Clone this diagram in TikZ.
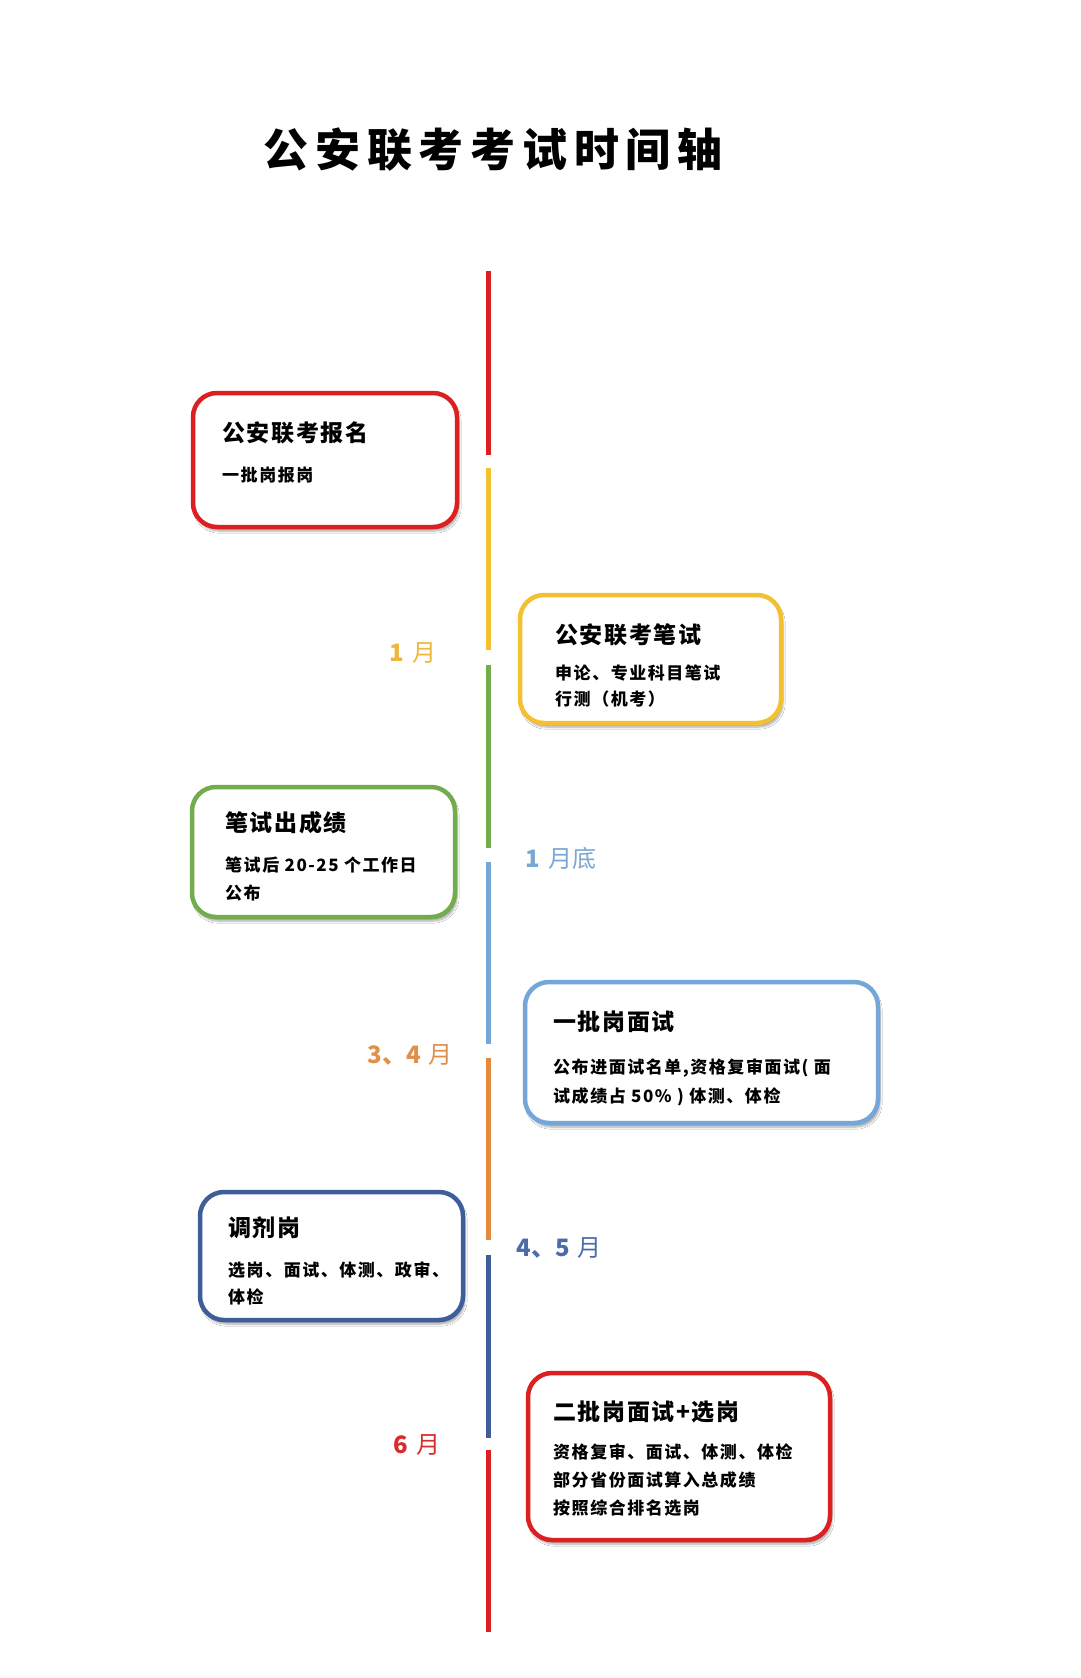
\documentclass[tikz,border=0pt]{standalone}
\usepackage{fontspec}
\setmainfont{Noto Sans CJK SC}
\usetikzlibrary{shadows.blur}
\definecolor{cred}{HTML}{DC1F21}
\definecolor{cyel}{HTML}{F3C030}
\definecolor{cgrn}{HTML}{72AC4D}
\definecolor{clbl}{HTML}{74A6D8}
\definecolor{cora}{HTML}{E38A3D}
\definecolor{cdbl}{HTML}{3F5E99}
\definecolor{tyel}{HTML}{EFB63A}
\definecolor{tlbl}{HTML}{7BA7D3}
\definecolor{tora}{HTML}{E0904A}
\definecolor{tdbl}{HTML}{4A6CA8}
\definecolor{tred}{HTML}{D92B2B}
\begin{document}
\begin{tikzpicture}[x=1pt,y=-1pt,
  seg/.style={line width=5pt},
  card/.style={draw=#1, fill=white, line width=4.5pt, rounded corners=24pt,
    blur shadow={shadow xshift=2pt, shadow yshift=-4pt, shadow blur steps=6, shadow opacity=35}},
  ctitle/.style={anchor=west, inner sep=0pt, text=black, font=\fontsize{23}{27}\selectfont\bfseries\addfontfeature{LetterSpace=7}},
  cbody/.style={anchor=west, inner sep=0pt, text=black, font=\fontsize{17}{22}\selectfont\bfseries\addfontfeature{LetterSpace=9}},
  month/.style={inner sep=0pt, font=\fontsize{24}{28}\selectfont}
]
\useasboundingbox[fill=white] (0,0) rectangle (1080,1678);

% title
\node[inner sep=0pt, font=\fontsize{45}{50}\selectfont\bfseries\addfontfeature{LetterSpace=15}] (title) at (493,150) {公安联考考试时间轴};

% timeline
\coordinate (t0) at (488,271);  \coordinate (t1) at (488,455);
\coordinate (t2) at (488,468);  \coordinate (t3) at (488,650);
\coordinate (t4) at (488,665);  \coordinate (t5) at (488,848);
\coordinate (t6) at (488,862);  \coordinate (t7) at (488,1044);
\coordinate (t8) at (488,1058); \coordinate (t9) at (488,1240);
\coordinate (t10) at (488,1255); \coordinate (t11) at (488,1438);
\coordinate (t12) at (488,1450); \coordinate (t13) at (488,1632);
\draw[seg, cred] (t0) -- (t1);
\draw[seg, cyel] (t2) -- (t3);
\draw[seg, cgrn] (t4) -- (t5);
\draw[seg, clbl] (t6) -- (t7);
\draw[seg, cora] (t8) -- (t9);
\draw[seg, cdbl] (t10) -- (t11);
\draw[seg, cred] (t12) -- (t13);

% month labels
\node[month, text=tyel] (m1) at (413,653) {\textbf{1}\,\,月};
\node[month, text=tlbl] (m2) at (561,858) {\textbf{1}\,\,月底};
\node[month, text=tora] (m3) at (410,1055) {\textbf{3、4}\,\,月};
\node[month, text=tdbl] (m4) at (559,1248) {\textbf{4、5}\,\,月};
\node[month, text=tred] (m5) at (417,1445) {\textbf{6}\,\,月};

% box 1
\path[card=cred] (193,393) rectangle (457,527);
\node[ctitle] (b1t) at (222,433) {公安联考报名};
\node[cbody] (b1a) at (222,475) {一批岗报岗};

% box 2
\path[card=cyel] (520,595) rectangle (781,723);
\node[ctitle] (b2t) at (555,635) {公安联考笔试};
\node[cbody] (b2a) at (555,673) {申论、专业科目笔试};
\node[cbody] (b2b) at (555,699) {行测（机考）};

% box 3
\path[card=cgrn] (192,787) rectangle (455,917);
\node[ctitle] (b3t) at (225,823) {笔试出成绩};
\node[cbody] (b3a) at (225,865) {笔试后 20-25 个工作日};
\node[cbody] (b3b) at (225,893) {公布};

% box 4
\path[card=clbl] (525,982) rectangle (878,1123);
\node[ctitle] (b4t) at (553,1022) {一批岗面试};
\node[cbody] (b4a) at (553,1068) {公布进面试名单,资格复审面试( 面};
\node[cbody] (b4b) at (553,1097) {试成绩占 50\% ) 体测、体检};

% box 5
\path[card=cdbl] (200,1192) rectangle (463,1320);
\node[ctitle] (b5t) at (228,1228) {调剂岗};
\node[cbody] (b5a) at (228,1270) {选岗、面试、体测、政审、};
\node[cbody] (b5b) at (228,1297) {体检};

% box 6
\path[card=cred] (528,1373) rectangle (830,1540);
\node[ctitle] (b6t) at (553,1412) {二批岗面试+选岗};
\node[cbody] (b6a) at (553,1452) {资格复审、面试、体测、体检};
\node[cbody] (b6b) at (553,1480) {部分省份面试算入总成绩};
\node[cbody] (b6c) at (553,1508) {按照综合排名选岗};
\end{tikzpicture}
\end{document}
